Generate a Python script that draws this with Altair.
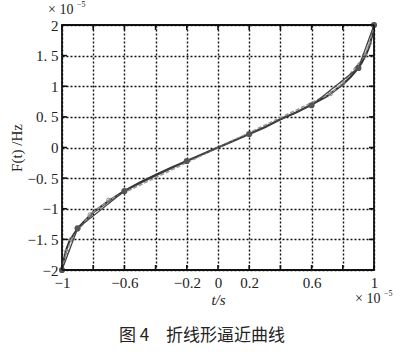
import altair as alt
import pandas as pd

# smooth curve F(t) (values in units of 1e-5)
curve_t = [-1, -0.99, -0.97, -0.95, -0.92, -0.9, -0.85, -0.8, -0.7, -0.6, -0.5, -0.4, -0.3, -0.2, -0.1,
           0, 0.1, 0.2, 0.3, 0.4, 0.5, 0.6, 0.7, 0.8, 0.85, 0.9, 0.92, 0.95, 0.97, 0.99, 1]
curve_F = [-2, -1.85, -1.65, -1.52, -1.4, -1.32, -1.19, -1.06, -0.87, -0.71, -0.57, -0.45, -0.33, -0.22, -0.11,
           0, 0.11, 0.22, 0.33, 0.46, 0.57, 0.7, 0.84, 1.03, 1.15, 1.3, 1.38, 1.52, 1.65, 1.85, 2]

# polyline approximation (filled markers)
poly_t = [-1, -0.9, -0.6, -0.2, 0.2, 0.6, 0.9, 1]
poly_F = [-2, -1.32, -0.71, -0.22, 0.22, 0.69, 1.3, 2]

# gray dashed auxiliary line with open circles
aux_t = [-1, -0.97, -0.94, -0.82, -0.7, 0.72, 0.8, 0.94, 0.97, 1]
aux_F = [-2, -1.7, -1.5, -1.1, -0.86, 0.88, 1.05, 1.5, 1.7, 2]

x_ticks = [-1, -0.8, -0.6, -0.4, -0.2, 0, 0.2, 0.4, 0.6, 0.8, 1]
y_ticks = [-2, -1.5, -1, -0.5, 0, 0.5, 1, 1.5, 2]

curve = pd.DataFrame({"t": curve_t, "F": curve_F})
poly = pd.DataFrame({"t": poly_t, "F": poly_F})
aux = pd.DataFrame({"t": aux_t, "F": aux_F})
xt = pd.DataFrame({"t": x_ticks})
yt = pd.DataFrame({"F": y_ticks})

SERIF = "Liberation Serif, Times New Roman, serif"
W, H = 312, 245

xs = alt.Scale(domain=[-1, 1], nice=False)
ys = alt.Scale(domain=[-2, 2], nice=False)

xaxis = alt.Axis(values=x_ticks, grid=True, ticks=False, domain=False, labelOverlap=False,
                 labelExpr="(abs(abs(datum.value)-0.4)<0.01 || abs(abs(datum.value)-0.8)<0.01) ? '' : format(datum.value, '~g')",
                 labelFont=SERIF, labelFontSize=15, labelColor="#222", labelPadding=5,
                 title="t/s", titleFont=SERIF, titleFontSize=15, titleFontWeight="normal",
                 titleFontStyle="italic", titleColor="#222", titlePadding=2, labelFlush=False)
yaxis = alt.Axis(values=y_ticks, grid=True, ticks=False, domain=False, labelOverlap=False,
                 labelExpr="abs(datum.value - round(datum.value)) > 0.01 ? (datum.value < 0 ? '−' : '') + floor(abs(datum.value)) + '. 5' : format(datum.value, '~g')",
                 labelFont=SERIF, labelFontSize=15, labelColor="#222", labelPadding=4,
                 title="F(t) /Hz", titleFont=SERIF, titleFontSize=15, titleFontWeight="normal",
                 titleColor="#222", titleX=-46, titleY=H / 2, titleAlign="center",
                 titleBaseline="middle", labelFlush=False)

X = alt.X("t:Q", scale=xs, axis=xaxis)
Y = alt.Y("F:Q", scale=ys, axis=yaxis)

base_line = alt.Chart(curve).mark_line(color="#333", strokeWidth=2.2).encode(x=X, y=Y)
aux_line = alt.Chart(aux).mark_line(color="#999", strokeWidth=1.5, strokeDash=[4, 2],
                                    point=alt.OverlayMarkDef(filled=False, color="#888", size=18, strokeWidth=1)).encode(x=X, y=Y)
poly_line = alt.Chart(poly).mark_line(color="#444", strokeWidth=1.3).encode(x=X, y=Y)
poly_pts = alt.Chart(poly).mark_point(filled=True, color="#555", size=38, opacity=1).encode(x=X, y=Y)

# inward tick marks on the frame
tick_b = alt.Chart(xt).mark_rule(color="#111", strokeWidth=1.6).encode(
    x=X, y=alt.value(H), y2=alt.value(H - 5))
tick_t = alt.Chart(xt).mark_rule(color="#111", strokeWidth=1.6).encode(
    x=X, y=alt.value(0), y2=alt.value(5))
tick_l = alt.Chart(yt).mark_rule(color="#111", strokeWidth=1.6).encode(
    y=Y, x=alt.value(0), x2=alt.value(5))
tick_r = alt.Chart(yt).mark_rule(color="#111", strokeWidth=1.6).encode(
    y=Y, x=alt.value(W), x2=alt.value(W - 5))

def txt(s, x, y, size, font=SERIF, align="left"):
    return alt.Chart(pd.DataFrame({"s": [s]})).mark_text(
        font=font, fontSize=size, color="#222", align=align, baseline="alphabetic").encode(
        text="s:N", x=alt.value(x), y=alt.value(y))

ann = [
    txt("× 10", -14, -11, 14),
    txt("−5", 15, -18, 8),
    txt("× 10", 293, 278, 14),
    txt("−5", 322, 271, 8),
    txt("图 4\u2003折线形逼近曲线", 140, 316, 17, font="Noto Sans CJK SC", align="center"),
]

chart = alt.layer(base_line, aux_line, poly_line, poly_pts, tick_b, tick_t, tick_l, tick_r, *ann).properties(
    width=W, height=H,
    autosize=alt.AutoSizeParams(type="none"),
    padding={"left": 62, "top": 25, "right": 26, "bottom": 82},
    background="white",
).configure_view(stroke="#111", strokeWidth=1.8).configure_axis(
    gridColor="#111", gridDash=[2, 2], gridWidth=1.4, gridOpacity=1)

chart.save("out.html", embed_options={"renderer": "svg", "actions": False})
